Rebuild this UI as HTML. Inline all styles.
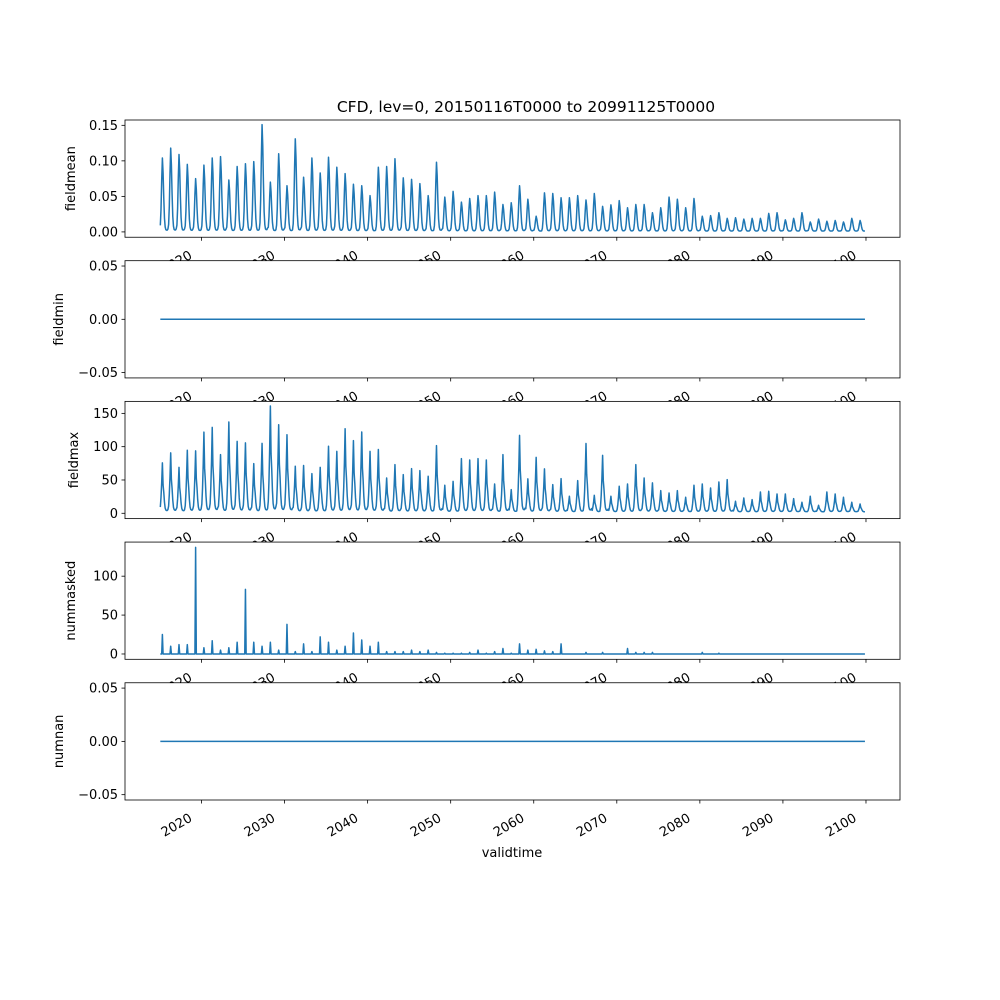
<!DOCTYPE html>
<html><head><meta charset="utf-8"><style>body{margin:0;background:#fff}svg{display:block;font-family:"DejaVu Sans","Liberation Sans",sans-serif}</style></head>
<body>
<svg id="fig" width="1000" height="1000" xmlns="http://www.w3.org/2000/svg"></svg>
<script>
// Per-year data (years 2015..2099)
const firstYear = 2015;
const meanPeaks = [0.103,0.117,0.108,0.094,0.074,0.093,0.103,0.105,0.072,0.091,0.095,0.098,0.150,0.069,0.109,0.064,0.130,0.076,0.103,0.082,0.104,0.090,0.081,0.066,0.064,0.050,0.090,0.091,0.102,0.075,0.073,0.067,0.050,0.097,0.048,0.056,0.041,0.046,0.050,0.050,0.055,0.0375,0.040,0.064,0.045,0.021,0.054,0.053,0.047,0.047,0.050,0.044,0.053,0.035,0.037,0.043,0.033,0.0375,0.0375,0.026,0.033,0.048,0.045,0.033,0.046,0.021,0.022,0.026,0.018,0.019,0.017,0.018,0.018,0.025,0.026,0.016,0.018,0.026,0.013,0.017,0.014,0.015,0.013,0.018,0.015];
const maxPeaks = [75.6,90.7,69,94.7,93.7,121.8,129,88,137,108,105.7,74.6,105,161,133,118,70.7,71.7,59.5,69,100.7,93,127,109,122,93,95.7,53,73,58,67,64,55.6,101.6,42,48,82,80,82,80,44,88,35.5,117,51.6,84,66.6,43,52,25.6,49,104.7,27,87,25.6,40.6,44,73,53,45.6,34,30.5,34,24,42,44,38,47,50.6,18,23,20.5,32,33,29,29,22,16.5,25.6,12,32,29,24,16.5,14];
const maskedPeaks = [25,10,12,12,137,8,17,5,8,15,83,15,10,15,5,38,3,13,3,22,15,5,10,27,18,10,15,3,3,3,5,3,5,2,1,1,1,2,5,1,3,7,1,13,5,6,4,3,13,0,0,2,0,2,0,0,7,2,2,2,0,0,0,0,0,2,0,1,0,0,0,0,0,0,0,0,0,0,0,0,0,0,0,0,0];
const seasonProfile = [0.08,0.3,0.7,1,0.8,0.45,0.18,0.06,0.02,0.015,0.015,0.03];
const maxProfile = [0.1,0.3,0.6,1,0.55,0.4,0.2,0.08,0.04,0.03,0.03,0.05];
const panelNames = ["fieldmean","fieldmin","fieldmax","nummasked","numnan"];
const yTicks = [[0.00,0.05,0.10,0.15],[-0.05,0.00,0.05],[0,50,100,150],[0,50,100],[-0.05,0.00,0.05]];
const yLabels = [["0.00","0.05","0.10","0.15"],["−0.05","0.00","0.05"],["0","50","100","150"],["0","50","100"],["−0.05","0.00","0.05"]];
const yRanges = [[-0.0075,0.1575],[-0.055,0.055],[-8,168],[-6.85,143.85],[-0.055,0.055]];
const xTickYears = [2020,2030,2040,2050,2060,2070,2080,2090,2100];

const NS="http://www.w3.org/2000/svg";
const svg=document.getElementById('fig');
function mk(t,a,p){const e=document.createElementNS(NS,t);for(const k in a)e.setAttribute(k,a[k]);(p||svg).appendChild(e);return e;}
const L=125,R=900,H=117.24,GAP=23.45,TOP=120;
const xs=y=>201.5+(y-2020)*8.306;
const C="#1f77b4";

const times=[],mean=[],mn=[],mx=[],mask=[],nan=[];
for(let i=0;i<meanPeaks.length;i++){for(let m=0;m<12;m++){
  if(i===meanPeaks.length-1&&m>10)break;
  times.push(firstYear+i+(m+0.5)/12);
  mean.push(0.001+meanPeaks[i]*seasonProfile[m]);
  mn.push(0);
  mx.push(2+(maxPeaks[i]-2)*maxProfile[m]);
  mask.push(m===3?maskedPeaks[i]:0);
  nan.push(0);
}}
const series=[mean,mn,mx,mask,nan];

for(let p=0;p<5;p++){
  const top=TOP+p*(H+GAP),bot=top+H;
  const [y0,y1]=yRanges[p];
  const ys=v=>bot-(v-y0)/(y1-y0)*H;
  const g=mk('g',{});
  
  
  const bg=mk('rect',{x:L,y:top,width:R-L,height:H,fill:'#fff'},g);
  
  
  let d='';
  series[p].forEach((v,i)=>{d+=(i?'L':'M')+xs(times[i]).toFixed(2)+','+ys(v).toFixed(2);});
  const ln=mk('path',{d:d,fill:'none',stroke:C,'stroke-width':1.5,'stroke-linejoin':'round'},g);
  
  
  const fr=mk('rect',{x:L,y:top,width:R-L,height:H,fill:'none',stroke:'#000','stroke-width':0.8},g);
  
  
  yTicks[p].forEach((t,i)=>{
    const y=ys(t);
    mk('line',{x1:L-3.5,x2:L,y1:y,y2:y,stroke:'#000','stroke-width':0.8},g);
    const tx=mk('text',{x:L-7,y:y+4.5,'font-size':13,'text-anchor':'end'},g);
    tx.textContent=yLabels[p][i];
    
    
  });
  const yl=mk('text',{transform:`translate(${p===2?78:(p===1||p===4?63:75)},${top+H/2}) rotate(-90)`,'font-size':13,'text-anchor':'middle'},g);
  yl.textContent=panelNames[p];
  
  
  xTickYears.forEach(yr=>{
    const x=xs(yr);
    mk('line',{x1:x,x2:x,y1:bot,y2:bot+3.5,stroke:'#000','stroke-width':0.8},g);
    const tx=mk('text',{transform:`translate(${x-8.5},${bot+20.5}) rotate(-30)`,'font-size':13,'text-anchor':'end'},g);
    tx.textContent=yr;
    
    
  });
}
const ti=mk('text',{x:526,y:112,'font-size':15.5,'text-anchor':'middle'});
ti.textContent='CFD, lev=0, 20150116T0000 to 20991125T0000';


const xl=mk('text',{x:512,y:857,'font-size':13,'text-anchor':'middle'});
xl.textContent='validtime';


</script>
</body></html>
